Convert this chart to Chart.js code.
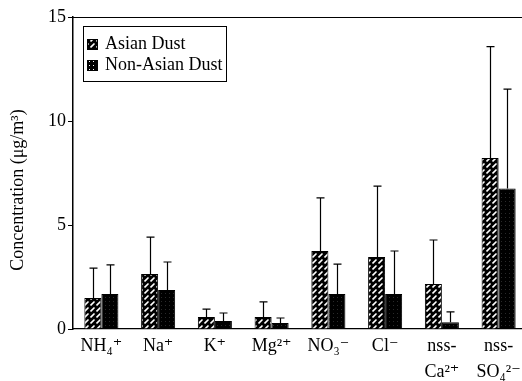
<!DOCTYPE html>
<html>
<head>
<meta charset="utf-8">
<script src="https://cdn.jsdelivr.net/npm/chart.js@4"></script>
<style>
html,body{margin:0;padding:0;background:#fff;overflow:hidden;}
#wrap{width:527px;height:381px;position:relative;}
</style>
</head>
<body>
<div id="wrap"><canvas id="c"></canvas></div>
<script>
const categories = [['NH\u2084\u207A'], ['Na\u207A'], ['K\u207A'], ['Mg\u00B2\u207A'], ['NO\u2083\u207B'], ['Cl\u207B'], ['nss-', 'Ca\u00B2\u207A'], ['nss-', 'SO\u2084\u00B2\u207B']];
const asianDust = [1.49, 2.64, 0.58, 0.58, 3.75, 3.46, 2.16, 8.22];
const asianDustSD = [1.44, 1.78, 0.38, 0.72, 2.55, 3.41, 2.12, 5.36];
const nonAsianDust = [1.68, 1.87, 0.38, 0.29, 1.68, 1.68, 0.33, 6.75];
const nonAsianDustSD = [1.40, 1.35, 0.39, 0.24, 1.44, 2.07, 0.49, 4.78];
const yTicks = [0, 5, 10, 15];
const yTitle = 'Concentration (\u03BCg/m\u00B3)';

const SERIF = "'Liberation Serif', 'Times New Roman', 'DejaVu Serif', serif";

function hatchPattern() {
  const c = document.createElement('canvas');
  c.width = 6; c.height = 6;
  const g = c.getContext('2d');
  g.fillStyle = '#000'; g.fillRect(0, 0, 6, 6);
  g.strokeStyle = '#fff'; g.lineWidth = 1.6;
  g.beginPath();
  g.moveTo(0.5, 5.5); g.lineTo(4.5, 1.5);
  g.stroke();
  return g.createPattern(c, 'repeat');
}
function dotPattern(dotColor) {
  const c = document.createElement('canvas');
  c.width = 4; c.height = 4;
  const g = c.getContext('2d');
  g.fillStyle = '#000'; g.fillRect(0, 0, 4, 4);
  g.fillStyle = dotColor; g.fillRect(1, 1, 1, 1);
  return g.createPattern(c, 'repeat');
}
const asianFill = hatchPattern();
const nonFill = dotPattern('#2a2a2a');
const nonLegendFill = dotPattern('#fff');

const errorSets = [asianDustSD, nonAsianDustSD];

const decorPlugin = {
  id: 'decor',
  afterDatasetsDraw(chart) {
    const ctx = chart.ctx;
    const ys = chart.scales.y;
    const ca = chart.chartArea;
    ctx.save();
    ctx.strokeStyle = '#000';
    ctx.lineWidth = 1.2;
    chart.data.datasets.forEach((ds, di) => {
      const meta = chart.getDatasetMeta(di);
      meta.data.forEach((bar, i) => {
        const top = ys.getPixelForValue(ds.data[i] + errorSets[di][i]);
        const base = ys.getPixelForValue(ds.data[i]);
        const x = Math.round(bar.x) + 0.5;
        ctx.beginPath();
        ctx.moveTo(x, base);
        ctx.lineTo(x, top);
        ctx.moveTo(x - 4, top);
        ctx.lineTo(x + 4, top);
        ctx.stroke();
      });
    });
    ctx.lineWidth = 1.2;
    ctx.beginPath();
    ctx.moveTo(ca.left, ca.top + 0.5);
    ctx.lineTo(chart.width, ca.top + 0.5);
    ctx.stroke();
    ctx.fillStyle = '#000';
    ctx.font = '18px ' + SERIF;
    ctx.textAlign = 'center';
    ctx.textBaseline = 'middle';
    ctx.translate(18, 190);
    ctx.rotate(-Math.PI / 2);
    ctx.fillText(yTitle, 0, 0);
    ctx.restore();
    ctx.save();
    const bx = 83, by = 26, bw = 143, bh = 55;
    ctx.fillStyle = '#fff';
    ctx.fillRect(bx, by, bw, bh);
    ctx.strokeStyle = '#000';
    ctx.lineWidth = 1;
    ctx.strokeRect(bx + 0.5, by + 0.5, bw, bh);
    const items = [
      {label: chart.data.datasets[0].label, fill: asianFill, y: 44},
      {label: chart.data.datasets[1].label, fill: nonLegendFill, y: 65}
    ];
    ctx.font = '18px ' + SERIF;
    ctx.textAlign = 'left';
    ctx.textBaseline = 'middle';
    items.forEach(it => {
      ctx.fillStyle = it.fill;
      ctx.fillRect(87, it.y - 5, 11, 11);
      ctx.strokeStyle = '#000';
      ctx.strokeRect(87.5, it.y - 4.5, 10, 10);
      ctx.fillStyle = '#000';
      ctx.fillText(it.label, 105, it.y);
    });
    ctx.restore();
  }
};

new Chart(document.getElementById('c'), {
  type: 'bar',
  data: {
    labels: categories,
    datasets: [
      {label: 'Asian Dust', data: asianDust, backgroundColor: asianFill, borderColor: '#000', borderWidth: 1, categoryPercentage: 0.6, barPercentage: 1},
      {label: 'Non-Asian Dust', data: nonAsianDust, backgroundColor: nonFill, borderColor: '#000', borderWidth: 1, categoryPercentage: 0.6, barPercentage: 1}
    ]
  },
  options: {
    responsive: true,
    maintainAspectRatio: false,
    animation: false,
    layout: {padding: {top: 17, left: 0, right: 0, bottom: 0}},
    plugins: {legend: {display: false}, tooltip: {enabled: false}},
    scales: {
      x: {
        offset: true,
        grid: {display: false, drawTicks: false},
        border: {display: true, color: '#000', width: 1.2},
        ticks: {color: '#000', font: {family: SERIF, size: 18, lineHeight: 1.45}, padding: 4, maxRotation: 0, autoSkip: false},
        afterFit(s) { s.height = 52; }
      },
      y: {
        min: 0, max: 15,
        afterBuildTicks(s) { s.ticks = yTicks.map(v => ({value: v})); },
        grid: {drawOnChartArea: false, color: '#000', tickLength: 5, lineWidth: 1},
        border: {display: true, color: '#000', width: 1.5},
        ticks: {color: '#000', font: {family: SERIF, size: 18}, padding: 2},
        afterFit(s) { s.width = 73; }
      }
    }
  },
  plugins: [decorPlugin]
});
</script>
</body>
</html>
